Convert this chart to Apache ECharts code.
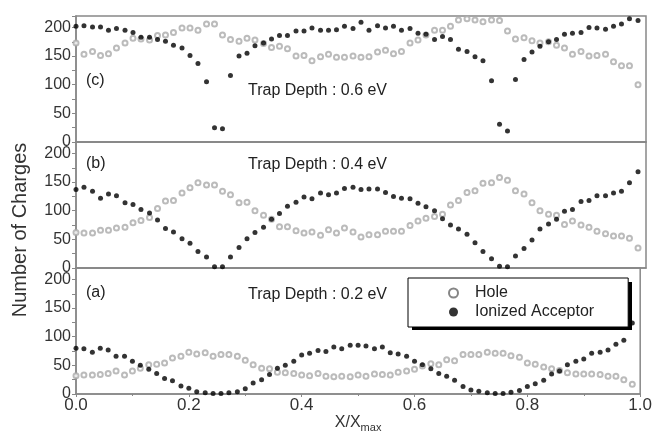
<!DOCTYPE html>
<html>
<head>
<meta charset="utf-8">
<script src="https://cdn.jsdelivr.net/npm/echarts@6/dist/echarts.min.js"></script>
<style>
  html, body { margin: 0; padding: 0; background: #fff; }
  #chart { width: 655px; height: 436px; }
</style>
</head>
<body>
<div id="chart"></div>
<script>
// x positions of the sampled points (X/Xmax)
const xs = [0, 0.014, 0.029, 0.043, 0.057, 0.071, 0.086, 0.1, 0.114, 0.129,
  0.143, 0.157, 0.171, 0.186, 0.2, 0.214, 0.229, 0.243, 0.257, 0.271,
  0.286, 0.3, 0.314, 0.329, 0.343, 0.357, 0.371, 0.386, 0.4, 0.414,
  0.429, 0.443, 0.457, 0.471, 0.486, 0.5, 0.514, 0.529, 0.543, 0.557,
  0.571, 0.586, 0.6, 0.614, 0.629, 0.643, 0.657, 0.671, 0.686, 0.7,
  0.714, 0.729, 0.743, 0.757, 0.771, 0.786, 0.8, 0.814, 0.829, 0.843,
  0.857, 0.871, 0.886, 0.9, 0.914, 0.929, 0.943, 0.957, 0.971, 0.986];

// (c) trap depth 0.6 eV
const holeC = [173, 153, 158, 151, 154, 164, 173, 181, 180, 178,
  186, 187, 191, 199, 199, 195, 206, 206, 187, 179,
  176, 181, 178, 172, 165, 167, 163, 150, 151, 142,
  149, 153, 148, 148, 150, 148, 149, 157, 160, 154,
  158, 173, 178, 187, 195, 195, 202, 213, 215, 213,
  210, 213, 212, 194, 180, 182, 177, 173, 175, 169,
  164, 153, 158, 150, 151, 153, 140, 133, 133, 100];
const acceptorC = [202, 203, 201, 201, 195, 198, 195, 191, 183, 183,
  179, 176, 169, 164, 151, 137, 105, 25, 23, 116,
  150, 155, 168, 173, 180, 186, 186, 194, 194, 199,
  195, 195, 196, 202, 198, 209, 195, 203, 199, 202,
  195, 198, 190, 188, 179, 184, 179, 162, 158, 149,
  142, 107, 31, 19, 109, 144, 157, 167, 175, 179,
  188, 190, 191, 200, 199, 197, 202, 206, 215, 212];

// (b) trap depth 0.4 eV
const holeB = [62, 61, 61, 66, 66, 70, 71, 79, 83, 88,
  104, 117, 118, 131, 140, 149, 145, 145, 134, 128,
  114, 115, 100, 92, 85, 72, 72, 65, 61, 63,
  57, 67, 61, 70, 63, 54, 58, 58, 64, 64,
  64, 74, 82, 87, 90, 94, 110, 118, 132, 135,
  148, 149, 158, 153, 135, 129, 114, 100, 94, 92,
  76, 82, 75, 71, 64, 60, 56, 56, 52, 35];
const acceptorB = [137, 141, 134, 122, 129, 126, 114, 111, 102, 96,
  84, 69, 63, 51, 43, 29, 19, 2, 2, 19,
  36, 51, 62, 71, 85, 95, 108, 115, 124, 121,
  131, 128, 131, 139, 141, 137, 138, 138, 132, 125,
  122, 121, 113, 107, 100, 86, 75, 68, 59, 44,
  29, 16, 3, 2, 21, 34, 49, 68, 77, 85,
  99, 102, 116, 118, 126, 126, 131, 134, 149, 168];

// (a) trap depth 0.2 eV
const holeA = [32, 33, 33, 34, 36, 40, 33, 40, 45, 51,
  52, 54, 63, 66, 73, 70, 72, 66, 69, 69,
  66, 59, 51, 45, 44, 38, 37, 36, 33, 32,
  36, 31, 30, 31, 30, 33, 31, 35, 34, 33,
  38, 40, 43, 49, 53, 51, 60, 58, 69, 69,
  69, 73, 71, 71, 67, 64, 54, 52, 47, 44,
  41, 37, 35, 35, 35, 34, 31, 31, 25, 17];
const acceptorA = [80, 79, 73, 80, 77, 66, 66, 57, 50, 43,
  36, 27, 23, 14, 10, 4, 2, 1, 1, 2,
  4, 9, 19, 25, 34, 45, 50, 57, 68, 71,
  76, 74, 82, 79, 85, 85, 84, 79, 82, 72,
  70, 66, 57, 51, 44, 36, 31, 24, 13, 7,
  5, 2, 1, 1, 3, 6, 13, 18, 24, 35,
  40, 51, 57, 61, 71, 73, 77, 87, 94, 124];

const panels = [
  { tag: "(c)", depth: "Trap Depth : 0.6 eV", hole: holeC, acc: acceptorC },
  { tag: "(b)", depth: "Trap Depth : 0.4 eV", hole: holeB, acc: acceptorB },
  { tag: "(a)", depth: "Trap Depth : 0.2 eV", hole: holeA, acc: acceptorA },
];
const yTicks = [0, 50, 100, 150, 200];

const chart = echarts.init(document.getElementById("chart"));
const font = "Liberation Sans, Arial, sans-serif";
const axisGray = "#888";
const holeGray = "#aaaaaa";
const panelTop = [16, 142, 268];
// where the panel tags and trap depth notes sit
const tagTop = [73, 156, 285];
const depthTop = [83, 157, 287];

function pairs(ys) {
  return xs.map((x, i) => [x, ys[i]]);
}

const grids = panelTop.map((t) => ({
  left: 76, top: t, width: 570, height: 126,
  show: true, borderColor: axisGray, borderWidth: 1.5,
}));

const xAxes = panelTop.map((t, i) => ({
  type: "value", gridIndex: i, min: 0, max: 1, interval: 0.2,
  axisLine: { lineStyle: { color: axisGray, width: 1.5 } },
  axisTick: { show: i === 2, length: 3, lineStyle: { color: axisGray } },
  minorTick: { show: i === 2, splitNumber: 2, length: 2, lineStyle: { color: axisGray } },
  axisLabel: {
    show: i === 2, margin: 3, color: "#333", fontSize: 17, fontFamily: font,
    formatter: (v) => v.toFixed(1),
  },
  splitLine: { show: false },
  name: i === 2 ? "{a|X/X}{b|max}" : "",
  nameLocation: "middle", nameGap: 17,
  nameTextStyle: {
    rich: {
      a: { fontSize: 16, color: "#333", fontFamily: font },
      b: { fontSize: 11, color: "#333", fontFamily: font, padding: [11, 0, 0, 0] },
    },
  },
}));

const yAxes = panelTop.map((t, i) => ({
  type: "value", gridIndex: i, min: 0, max: 220, interval: 25,
  axisLine: { lineStyle: { color: axisGray, width: 1.5 } },
  axisTick: { show: true, length: 4, lineStyle: { color: axisGray } },
  axisLabel: {
    margin: 5, color: "#333", fontSize: 16, fontFamily: font,
    formatter: (v) => (yTicks.indexOf(v) >= 0 ? String(v) : ""),
  },
  splitLine: { show: false },
}));

const series = [];
panels.forEach((p, i) => {
  series.push({
    name: "Hole", type: "scatter", xAxisIndex: i, yAxisIndex: i,
    symbol: "emptyCircle", symbolSize: 5, clip: false,
    itemStyle: { color: holeGray, borderColor: holeGray, borderWidth: 0.8 },
    data: pairs(p.hole),
  });
  series.push({
    name: "Ionized Acceptor", type: "scatter", xAxisIndex: i, yAxisIndex: i,
    symbol: "circle", symbolSize: 5, clip: false,
    itemStyle: { color: "#000" },
    data: pairs(p.acc),
  });
});

const texts = [];
panels.forEach((p, i) => {
  texts.push({
    type: "text", left: 86, top: tagTop[i],
    style: { text: p.tag, fontSize: 16, fill: "#222", fontFamily: font },
  });
  texts.push({
    type: "text", left: 248, top: depthTop[i],
    style: { text: p.depth, fontSize: 16, fill: "#222", fontFamily: font },
  });
});
texts.push({
  type: "text", x: 20, y: 230, rotation: Math.PI / 2,
  style: {
    text: "Number of Charges", fontSize: 20, fill: "#333", fontFamily: font,
    align: "center", verticalAlign: "middle",
  },
});
// legend drop shadow
texts.push({
  type: "rect", left: 412, top: 282, z: 1,
  shape: { width: 220, height: 48 },
  style: { fill: "#000" },
});

const option = {
  animation: false,
  backgroundColor: "#fff",
  grid: grids,
  xAxis: xAxes,
  yAxis: yAxes,
  legend: {
    orient: "vertical", left: 408, top: 278, z: 5,
    padding: [7, 34, 7, 40], itemGap: 3, itemWidth: 9, itemHeight: 9,
    backgroundColor: "#fff", borderColor: "#000", borderWidth: 1,
    textStyle: { fontSize: 16, color: "#222", fontFamily: font, padding: [0, 0, 0, 12] },
    data: [
      { name: "Hole", icon: "emptyCircle", itemStyle: { color: "#666", borderColor: "#666", borderWidth: 1 } },
      { name: "Ionized Acceptor", icon: "circle", itemStyle: { color: "#000" } },
    ],
  },
  graphic: texts,
  series: series,
};
chart.setOption(option);
</script>
</body>
</html>
